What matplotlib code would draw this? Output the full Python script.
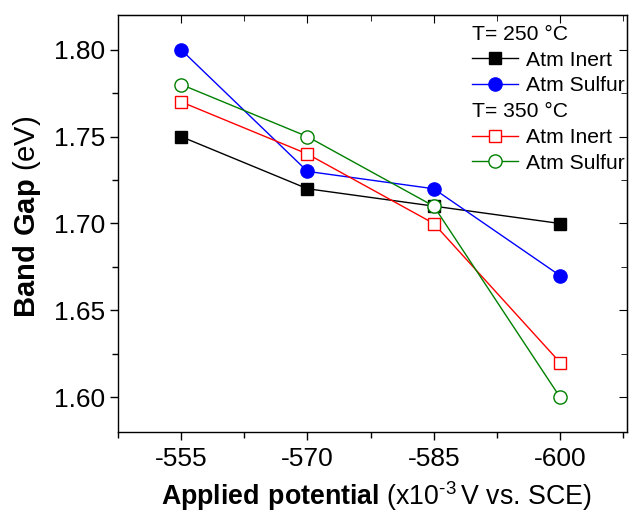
import matplotlib
matplotlib.use('Agg')
import matplotlib.pyplot as plt
from matplotlib.lines import Line2D
from matplotlib.ticker import MultipleLocator

plt.rcParams['font.family'] = 'Liberation Sans'
plt.rcParams['mathtext.fontset'] = 'custom'
plt.rcParams['mathtext.rm'] = 'Liberation Sans'
plt.rcParams['mathtext.bf'] = 'Liberation Sans:bold'

Potential       =   ['-555', '-570', '-585', '-600']
Inert250        =   [1.75, 1.72, 1.71, 1.70]
Sulfur250       =   [1.80, 1.73, 1.72, 1.67]
Inert350        =   [1.77, 1.74, 1.70, 1.62]
Sulfur350       =   [1.78, 1.75, 1.71, 1.60]

X = list(range(len(Potential)))

fig = plt.figure(figsize=(6.29, 5.13), dpi=100)
ax = fig.add_axes([118/629, 1-432/513, (627-118)/629, (432-15)/513])

ax.plot(X, Inert250, '-s', color='black', lw=1, ms=8.5, mfc='black', mec='black')
ax.plot(X, Sulfur250, '-o', color='blue', lw=1, ms=9.5, mfc='blue', mec='blue')
ax.plot(X, Inert350, '-s', color='red', lw=1, ms=8.5, mfc='white', mec='red')
ax.plot(X, Sulfur350, '-o', color='green', lw=1, ms=9.5, mfc='white', mec='green')

ax.set_xlim(-0.5, 3.53)
ax.set_ylim(1.58, 1.82)
ax.set_xticks(X)
ax.set_xticklabels(Potential)
ax.xaxis.set_minor_locator(MultipleLocator(0.5))
ax.yaxis.set_major_locator(MultipleLocator(0.05))
ax.yaxis.set_minor_locator(MultipleLocator(0.025))
ax.yaxis.set_major_formatter(matplotlib.ticker.FormatStrFormatter('%.2f'))
ax.tick_params(axis='both', which='major', direction='out', length=6, width=1, labelsize=19)
ax.tick_params(axis='both', which='minor', direction='out', length=4, width=1)
ax.tick_params(axis='both', which='both', top=False, right=False)
ax.tick_params(axis='x', which='major', pad=5)

# inward ticks on top/right
ax2 = ax.secondary_xaxis('top')
ax2.set_xticks(X)
ax2.xaxis.set_minor_locator(MultipleLocator(0.5))
ax2.tick_params(which='major', direction='in', length=6, labeltop=False)
ax2.tick_params(which='minor', direction='in', length=4)
ax3 = ax.secondary_yaxis('right')
ax3.yaxis.set_major_locator(MultipleLocator(0.05))
ax3.yaxis.set_minor_locator(MultipleLocator(0.025))
ax3.tick_params(which='major', direction='in', length=6, labelright=False)
ax3.tick_params(which='minor', direction='in', length=4)

for sp in ax.spines.values():
	sp.set_linewidth(1)

ax.set_ylabel(r'$\bf{Band\ Gap}$ (eV)', fontsize=21)
ax.set_xlabel(r'$\bf{Applied\ potential}$ (x10$^{\text{-}3}$$\,$V vs. SCE)', fontsize=19.3)
ax.yaxis.set_label_coords(-0.147, 0.515)
ax.xaxis.set_label_coords(0.507, -0.113)

blank = Line2D([], [], linestyle='none', marker='none')
Handles = [blank,
	Line2D([], [], color='black', lw=1, marker='s', ms=8.5, mfc='black', mec='black'),
	Line2D([], [], color='blue', lw=1, marker='o', ms=9.5, mfc='blue', mec='blue'),
	blank,
	Line2D([], [], color='red', lw=1, marker='s', ms=8.5, mfc='white', mec='red'),
	Line2D([], [], color='green', lw=1, marker='o', ms=9.5, mfc='white', mec='green')]
Labels = ['T= 250 \u00b0C', 'Atm Inert', 'Atm Sulfur', 'T= 350 \u00b0C', 'Atm Inert', 'Atm Sulfur']
leg = ax.legend(Handles, Labels, loc='upper right', frameon=False, fontsize=15.2,
	handlelength=2.2, handletextpad=0.35, labelspacing=0.32,
	bbox_to_anchor=(1.018, 1.004), borderaxespad=0.15)

rows = leg._legend_handle_box.get_children()[0].get_children()
for idx in [0, 3]:
	rows[idx].get_children()[0].width = 0
	rows[idx].sep = 0

fig.savefig('out.png', dpi=100)
